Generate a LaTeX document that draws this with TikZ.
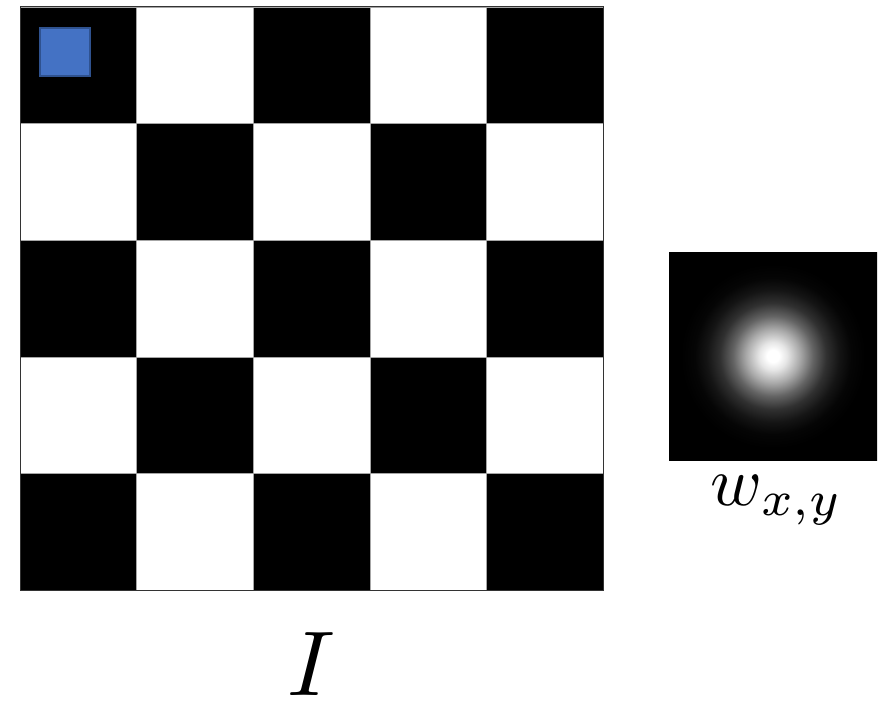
\documentclass[tikz,border=0pt]{standalone}
\pgfdeclareradialshading{gaussblob}{\pgfpoint{0bp}{0bp}}{%
  color(0bp)=(white);
  color(6bp)=(white);
  color(14bp)=(white!90!black);
  color(27bp)=(white!66!black);
  color(40bp)=(white!39!black);
  color(53bp)=(white!19!black);
  color(66bp)=(white!8!black);
  color(78bp)=(white!2!black);
  color(92bp)=(black);
  color(150bp)=(black)}
\definecolor{blueFill}{HTML}{4472C4}
\definecolor{blueEdge}{HTML}{2F528F}
\tikzset{
  darkcell/.style={fill=black, draw=gray!70, line width=0.6pt},
  lightcell/.style={fill=white, draw=gray!70, line width=0.6pt},
  marker/.style={fill=blueFill, draw=blueEdge, line width=1.5pt},
  lbl/.style={inner sep=0pt, anchor=base, transform shape}
}
\begin{document}
\begin{tikzpicture}[x=1pt,y=-1pt]
\useasboundingbox (0,0) rectangle (879,701);
% checkerboard
\foreach \i in {0,...,4}{
  \foreach \j in {0,...,4}{
    \pgfmathtruncatemacro{\cellpar}{mod(\i+\j,2)}
    \ifnum\cellpar=0
      \path[darkcell] ({20+116.6*\i},{7+116.6*\j}) rectangle ++(116.6,116.6);
    \else
      \path[lightcell] ({20+116.6*\i},{7+116.6*\j}) rectangle ++(116.6,116.6);
    \fi
  }
}
\draw[black!80, line width=1pt] (20,7) rectangle (603,590);
% blue marker
\path[marker] (40,28) rectangle (90,76);
% gaussian window
\fill[black] (669,252) rectangle (877,460);
\begin{scope}
  \clip (669,252) rectangle (877,460);
  \begin{scope}[shift={(773,356)}]
    \pgftext{\pgfuseshading{gaussblob}}
  \end{scope}
\end{scope}
% labels
\node[lbl, scale=7.0] (w) at (777,505) {$w_{x,y}$};
\node[lbl, scale=9.2] (I) at (311,695) {$I$};
\end{tikzpicture}
\end{document}
